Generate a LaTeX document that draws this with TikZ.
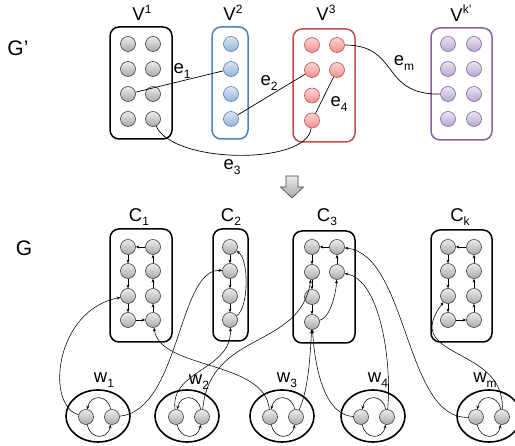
\documentclass[tikz,border=0pt]{standalone}
\usepackage{fontspec}
\setmainfont{Liberation Sans}
\usetikzlibrary{arrows.meta,shapes.geometric}

\definecolor{bline}{HTML}{4F81BD}
\definecolor{btop}{HTML}{DCE6F4}
\definecolor{bbot}{HTML}{95B3D7}
\definecolor{rline}{HTML}{C0504D}
\definecolor{rtop}{HTML}{FBD5D4}
\definecolor{rbot}{HTML}{EE8F8C}
\definecolor{pline}{HTML}{8064A2}
\definecolor{ptop}{HTML}{EAE4F2}
\definecolor{pbot}{HTML}{B8A7D0}
\definecolor{gline}{HTML}{404040}
\definecolor{gtop}{HTML}{EDEDED}
\definecolor{gbot}{HTML}{A8A8A8}

\newcommand{\lsub}[1]{\raisebox{-0.45ex}{\fontsize{12}{12}\selectfont #1}}
\newcommand{\lsup}[1]{\raisebox{0.75ex}{\fontsize{12}{12}\selectfont #1}}

\tikzset{
  vx/.style={circle, minimum size=15pt, inner sep=0pt, line width=0.6pt},
  gnode/.style={vx, draw=gline, top color=gtop, bottom color=gbot},
  bnode/.style={vx, draw=bline, top color=btop, bottom color=bbot},
  rnode/.style={vx, draw=rline, top color=rtop, bottom color=rbot},
  pnode/.style={vx, draw=pline, top color=ptop, bottom color=pbot},
  grp/.style={rectangle, rounded corners=9pt, line width=1.5pt, inner sep=0pt},
  ring/.style={ellipse, draw, line width=1.6pt, minimum width=64pt, minimum height=52pt, inner sep=0pt},
  lbl/.style={inner sep=0pt, font=\fontsize{18.5}{20}\selectfont},
  big/.style={inner sep=0pt, font=\fontsize{21}{22}\selectfont},
  link/.style={line width=0.7pt},
  arr/.style={-{Stealth[length=3.6pt,width=3pt]}, line width=0.55pt},
}

\begin{document}
\begin{tikzpicture}[x=1pt, y=-1pt]
\path[use as bounding box] (0,0) rectangle (515,446);

% ---------------- upper graph G' ----------------
\node[big] (gp) at (18,48) {G’};

\node[grp, draw=black, minimum width=62pt, minimum height=112pt] (V1) at (141,83) {};
\node[grp, draw=bline, minimum width=36pt, minimum height=112pt] (V2) at (230,83) {};
\node[grp, draw=rline, minimum width=62pt, minimum height=113pt] (V3) at (324,85.5) {};
\node[grp, draw=pline, minimum width=61pt, minimum height=112pt] (Vk) at (461.5,84) {};

\node[lbl] (lV1) at (142,13) {V\lsup{1}};
\node[lbl] (lV2) at (233,13) {V\lsup{2}};
\node[lbl] (lV3) at (326,13) {V\lsup{3}};
\node[lbl] (lVk) at (461,13) {V\lsup{k’}};

\foreach \r/\y in {1/44,2/69,3/94,4/119}{
  \node[gnode] (v1a\r) at (128,\y) {};
  \node[gnode] (v1b\r) at (153,\y) {};
  \node[bnode] (v2\r)  at (231,\y) {};
  \node[pnode] (vka\r) at (448,\y) {};
  \node[pnode] (vkb\r) at (474,\y) {};
}
\foreach \r/\y in {1/45,2/70,3/95.5,4/120.5}{
  \node[rnode] (v3a\r) at (312,\y) {};
}
\foreach \r/\y in {1/45,2/70}{
  \node[rnode] (v3b\r) at (337,\y) {};
}

\draw[link] (v1a3) -- (v22);
\draw[link] (v24) -- (v3a2);
\draw[link] (v3a4) -- (v3b2);
\draw[link] (v1b4) .. controls +(20,45) and +(-5,45) .. (v3a4);
\draw[link] (v3b1) .. controls (400,45) and (380,95) .. (vka3);

\node[lbl] (e1) at (182,71) {e\lsub{1}};
\node[lbl] (e2) at (269,83) {e\lsub{2}};
\node[lbl] (e4) at (339,104) {e\lsub{4}};
\node[lbl] (em) at (404,63) {e\lsub{m}};
\node[lbl] (e3) at (232,167) {e\lsub{3}};

% ---------------- contraction arrow ----------------
\draw[gline, line width=0.6pt, top color=gtop, bottom color=gbot]
  (286,176) -- (298,176) -- (298,187) -- (303.5,187) -- (292,198)
  -- (280.5,187) -- (286,187) -- cycle;

% ---------------- lower graph G ----------------
\node[big] (g) at (24,248) {G};

\node[grp, draw=black, minimum width=62pt, minimum height=113pt] (C1) at (141,285.5) {};
\node[grp, draw=black, minimum width=35pt, minimum height=112pt] (C2) at (230.5,285) {};
\node[grp, draw=black, minimum width=62pt, minimum height=112pt] (C3) at (324,287) {};
\node[grp, draw=black, minimum width=61pt, minimum height=112pt] (Ck) at (461.5,286) {};

\node[lbl] (lC1) at (139,217) {C\lsub{1}};
\node[lbl] (lC2) at (231,217) {C\lsub{2}};
\node[lbl] (lC3) at (327,217) {C\lsub{3}};
\node[lbl] (lCk) at (460,217) {C\lsub{k}};

\foreach \r/\y in {1/247,2/271,3/296,4/320}{
  \node[gnode] (c1a\r) at (128,\y) {};
  \node[gnode] (c1b\r) at (153,\y) {};
  \node[gnode] (c2\r)  at (230,\y) {};
  \node[gnode] (cka\r) at (448,\y) {};
  \node[gnode] (ckb\r) at (474,\y) {};
}
\foreach \r/\y in {1/247,2/272,3/297,4/322}{
  \node[gnode] (c3a\r) at (312,\y) {};
}
\foreach \r/\y in {1/247,2/272}{
  \node[gnode] (c3b\r) at (337,\y) {};
}

% cycles inside the clusters
\foreach \k in {c1,ck}{
  \draw[arr] (\k a1) -- (\k a2);
  \draw[arr] (\k a2) -- (\k a3);
  \draw[arr] (\k a3) -- (\k a4);
  \draw[arr] (\k a4) -- (\k b4);
  \draw[arr] (\k b4) -- (\k b3);
  \draw[arr] (\k b3) -- (\k b2);
  \draw[arr] (\k b2) -- (\k b1);
  \draw[arr] (\k b1) -- (\k a1);
}
\draw[arr] (c21) -- (c22);
\draw[arr] (c22) -- (c23);
\draw[arr] (c23) -- (c24);
\draw[arr] (c24) .. controls +(19,-12) and +(19,12) .. (c21);

\draw[arr] (c3a1) -- (c3a2);
\draw[arr] (c3a2) -- (c3a3);
\draw[arr] (c3a3) -- (c3a4);
\draw[arr] (c3a4) .. controls +(18,-4) and +(-1,22) .. (c3b2);
\draw[arr] (c3b2) -- (c3b1);
\draw[arr] (c3b1) -- (c3a1);

% walker rings
\node[ring] (W1) at (98,416) {};
\node[ring] (W2) at (187,416) {};
\node[ring] (W3) at (282,416) {};
\node[ring] (W4) at (373,416) {};
\node[ring] (Wm) at (489,416) {};

\node[lbl] (lw1) at (104,380) {w\lsub{1}};
\node[lbl] (lw2) at (199,382) {w\lsub{2}};
\node[lbl] (lw3) at (287,380) {w\lsub{3}};
\node[lbl] (lw4) at (378,380) {w\lsub{4}};
\node[lbl] (lwm) at (485,380) {w\lsub{m}};

\foreach \w/\x in {w1/86,w2/176,w3/270,w4/361,wm/476}{
  \node[gnode] (\w a) at (\x,417) {};
  \node[gnode] (\w b) at (\x+26,417) {};
  \draw[arr] (\w b) to[out=100,in=80,looseness=1.7] (\w a);
  \draw[arr] (\w a) to[out=-80,in=-100,looseness=1.7] (\w b);
}

% links between walkers and clusters
\draw[arr] (w1a) .. controls (45,405) and (55,310) .. (c1a3);
\draw[arr] (w1b) .. controls (180,410) and (178,268) .. (c22);
\draw[arr] (w3a) .. controls (265,360) and (160,370) .. (c1b4);
\draw[arr] (w2a) .. controls (170,370) and (232,370) .. (c24);
\draw[arr] (w2b) .. controls (210,330) and (300,350) .. (c3a2);
\draw[arr] (w3b) .. controls (308,390) and (310,360) .. (c3a4);
\draw[arr] (w4a) .. controls (325,415) and (315,370) .. (c3a4);
\draw[arr] (w4b) .. controls (392,360) and (380,280) .. (c3b2);
\draw[arr] (wma) .. controls (405,420) and (408,255) .. (c3b1);
\draw[arr] (wmb) .. controls (505,345) and (400,360) .. (cka3);

\end{tikzpicture}
\end{document}
